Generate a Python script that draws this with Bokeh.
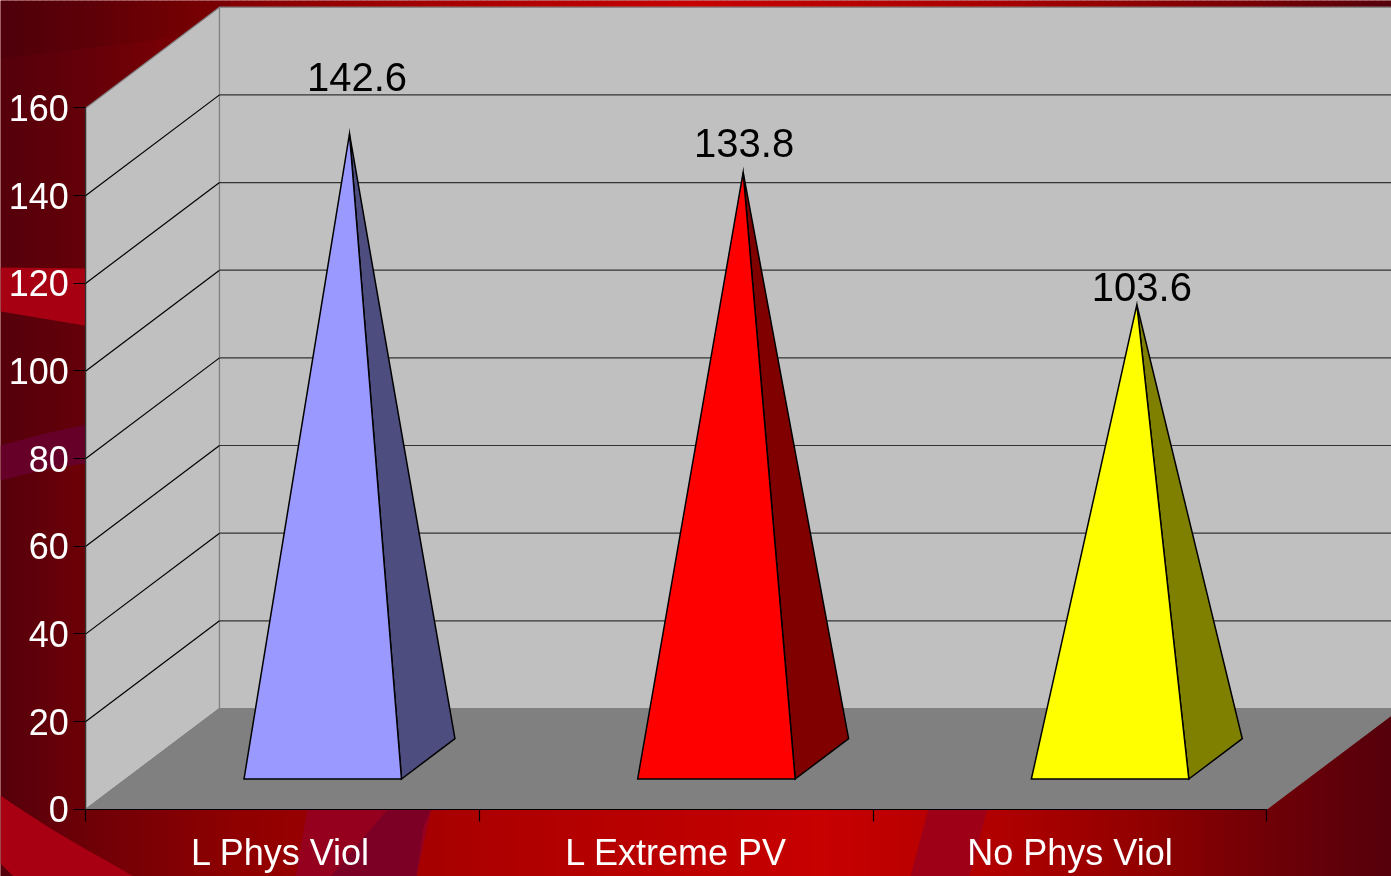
import numpy as np
from bokeh.plotting import figure
from bokeh.models import Range1d, LinearAxis, FixedTicker, ColumnDataSource
from bokeh.embed import file_html
from bokeh.resources import INLINE
from bokeh.core.properties import value

# ---- data ----
categories = ["L Phys Viol", "L Extreme PV", "No Phys Viol"]
values = [142.6, 133.8, 103.6]
value_labels = ["142.6", "133.8", "103.6"]
y_ticks = [0, 20, 40, 60, 80, 100, 120, 140, 160]
front_colors = ["#9999ff", "#ff0000", "#ffff00"]
side_colors = ["#4d4d80", "#800000", "#808000"]

# ---- layout of the 3D projection ----
W, H = 1391, 876
PX_CAT = 393.67      # px per category
PX_VAL = 4.383       # px per value unit
X0, Y0 = 85.3, 808.7 # px of origin
DX = 133.7 / PX_CAT  # depth shift in category units
DY = 100.7 / PX_VAL  # depth shift in value units
NC = len(categories)
VMAX = y_ticks[-1]

def px(c, d=0.0):
    return c + DX * d

def py(v, d=0.0):
    return v + DY * d

# decoration (background) given in page pixels
def bx(x):
    return (x - X0) / PX_CAT

def by(y):
    return (Y0 - y) / PX_VAL

p = figure(width=W, height=H, toolbar_location=None, output_backend="svg",
           x_range=Range1d(bx(0), bx(W)), y_range=Range1d(by(H), by(0)),
           x_axis_type=None, y_axis_type=None, min_border=0,
           outline_line_color=None, background_fill_color="#7a0008",
           border_fill_color="#7a0008")
p.grid.visible = False
p.styles = {"position": "fixed", "left": "0px", "top": "0px"}

# ---- background gradient: a slightly tilted horizontal sweep ----
TOP_X = [0, 100, 200, 450, 694, 1000, 1250, 1391]
TOP_R = [0x55, 0x68, 0x80, 0xa8, 0xc8, 0xa8, 0x78, 0x55]
LOW_X = [0, 85, 240, 480, 820, 1000, 1150, 1266, 1391]
LOW_R = [0x55, 0x6e, 0x90, 0xad, 0xc8, 0xb0, 0x90, 0x70, 0x55]
STEP = 6
edges = list(range(0, W + STEP, STEP))

def shade(xs, rs):
    out = []
    for e in edges[:-1]:
        r = float(np.interp(e + STEP / 2, xs, rs))
        b = max(0.0, 0x0c * (1 - (r - 0x55) / 0x40))
        out.append("#%02x00%02x" % (int(r), int(b)))
    return out

p.quad(left=[bx(e) for e in edges[:-1]], right=[bx(e + 1 + STEP) for e in edges[:-1]],
       top=by(0), bottom=by(440), fill_color=shade(TOP_X, TOP_R), line_color=None)
p.quad(left=[bx(e) for e in edges[:-1]], right=[bx(e + 1 + STEP) for e in edges[:-1]],
       top=by(440), bottom=by(H), fill_color=shade(LOW_X, LOW_R), line_color=None)

# ---- background swooshes ----
def poly(points, color, alpha=1.0):
    p.patch([bx(a) for a, b in points], [by(b) for a, b in points],
            fill_color=color, fill_alpha=alpha, line_color=None)

poly([(0, 0), (230, 0), (230, 25), (177, 37), (0, 58)], "#000000", 0.07)
poly([(0, 267), (90, 268), (90, 326), (0, 311)], "#a70012")
poly([(0, 445), (40, 434), (90, 423), (90, 462), (40, 470), (0, 480)], "#660028")
poly([(0, 795), (16, 806), (33, 817), (50, 828), (67, 838), (84, 848), (100, 857),
      (116, 866), (133, 876), (13, 876), (0, 863)], "#a80012")
poly([(307, 808), (431, 808), (416, 876), (295, 876)], "#95001f")
poly([(388, 808), (431, 808), (423, 826), (416, 876), (330, 876), (351, 851)], "#7c0026")
poly([(928, 808), (987, 808), (969, 876), (910, 876)], "#9e0018")

# ---- walls and floor ----
p.patch([px(0, 0), px(0, 1), px(0, 1), px(0, 0)],
        [py(VMAX, 0), py(VMAX, 1), py(0, 1), py(0, 0)],
        fill_color="#c0c0c0", line_color="#808080", line_width=1.2)
p.patch([px(0, 1), px(NC, 1), px(NC, 1), px(0, 1)],
        [py(VMAX, 1), py(VMAX, 1), py(0, 1), py(0, 1)],
        fill_color="#c0c0c0", line_color="#808080", line_width=1.2)
p.patch([px(0, 0), px(NC, 0), px(NC, 1), px(0, 1)],
        [py(0, 0), py(0, 0), py(0, 1), py(0, 1)],
        fill_color="#808080", line_color="#808080", line_width=1)

# ---- grid lines on both walls ----
gt = [t for t in y_ticks if 0 < t < VMAX]
p.segment(x0=[px(0, 0)] * len(gt), y0=[py(t, 0) for t in gt],
          x1=[px(0, 1)] * len(gt), y1=[py(t, 1) for t in gt],
          line_color="#000000", line_width=1.2)
p.segment(x0=[px(0, 1)] * len(gt), y0=[py(t, 1) for t in gt],
          x1=[px(NC, 1)] * len(gt), y1=[py(t, 1) for t in gt],
          line_color="#333333", line_width=1.2)

# ---- pyramids ----
C0, C1, CM = 0.3, 0.7, 0.5
D0, D1, DM = 0.3, 0.7, 0.5
for i, v in enumerate(values):
    p.patch([px(i + C1, D0), px(i + C1, D1), px(i + CM, DM)],
            [py(0, D0), py(0, D1), py(v, DM)],
            fill_color=side_colors[i], line_color="#000000", line_width=1.5,
            line_join="miter")
    p.patch([px(i + C0, D0), px(i + C1, D0), px(i + CM, DM)],
            [py(0, D0), py(0, D0), py(v, DM)],
            fill_color=front_colors[i], line_color="#000000", line_width=1.5,
            line_join="miter")

# ---- value labels ----
label_src = ColumnDataSource(dict(
    x=[px(i + CM, DM) for i in range(NC)],
    y=[py(v, DM) for v in values],
    t=value_labels,
    dx=[7.5, 1, 5],
    dy=[-57, -29, -18],
))
p.text("x", "y", text="t", source=label_src, x_offset="dx", y_offset="dy",
       text_font=value("Liberation Sans"), text_font_size="40px",
       text_color="#000000", text_align="center", text_baseline="alphabetic")

# ---- axes ----
yaxis = LinearAxis(fixed_location=0, bounds=(0, VMAX), ticker=FixedTicker(ticks=y_ticks))
yaxis.axis_line_color = "#333333"
yaxis.axis_line_width = 1.2
yaxis.major_tick_line_color = "#000000"
yaxis.major_tick_line_width = 1.2
yaxis.major_tick_out = 12
yaxis.major_tick_in = 0
yaxis.minor_tick_line_color = None
yaxis.major_label_standoff = 5
yaxis.major_label_text_color = "#ffffff"
yaxis.major_label_text_font = "Liberation Sans"
yaxis.major_label_text_font_size = "36px"
p.add_layout(yaxis, "left")

xaxis = LinearAxis(fixed_location=0, bounds=(0, NC),
                   ticker=FixedTicker(ticks=list(range(NC + 1))))
xaxis.axis_line_color = "#000000"
xaxis.axis_line_width = 1.2
xaxis.major_tick_line_color = "#000000"
xaxis.major_tick_line_width = 1.2
xaxis.major_tick_out = 12
xaxis.major_tick_in = 0
xaxis.minor_tick_line_color = None
xaxis.major_label_text_font_size = "0px"
xaxis.major_label_text_color = None
p.add_layout(xaxis, "below")

label_pos = [0.495, 1.5, 2.5]
xlab = LinearAxis(fixed_location=0, ticker=FixedTicker(ticks=label_pos),
                  major_label_overrides=dict(zip(label_pos, categories)))
xlab.axis_line_color = None
xlab.major_tick_line_color = None
xlab.minor_tick_line_color = None
xlab.major_tick_out = 0
xlab.major_tick_in = 0
xlab.major_label_standoff = 23
xlab.major_label_text_color = "#ffffff"
xlab.major_label_text_font = "Liberation Sans"
xlab.major_label_text_font_size = "36px"
p.add_layout(xlab, "below")

open("out.html", "w").write(file_html(p, INLINE))
